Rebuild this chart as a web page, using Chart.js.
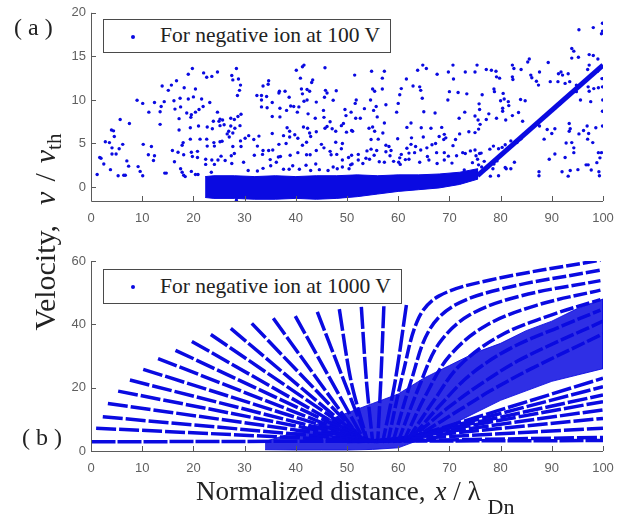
<!DOCTYPE html>
<html>
<head>
<meta charset="utf-8">
<script src="https://cdn.jsdelivr.net/npm/chart.js@4.4.1/dist/chart.umd.min.js"></script>
<style>
  html,body{margin:0;padding:0;background:#fff;}
  #wrap{position:relative;width:630px;height:526px;overflow:hidden;background:#fff;}
  canvas{position:absolute;left:0;}
  .serif{font-family:"Liberation Serif","Times New Roman",serif;color:#222;position:absolute;white-space:nowrap;}
  .legend{position:absolute;background:#fff;border:1px solid #4a4a4a;box-sizing:border-box;}
  .legend .dot{position:absolute;width:4px;height:4px;border-radius:50%;background:rgb(10,10,225);}
  .legend .txt{position:absolute;font-family:"Liberation Serif","Times New Roman",serif;font-size:21.5px;color:#222;white-space:nowrap;}
</style>
</head>
<body>
<div id="wrap">
  <canvas id="ca" width="630" height="230" style="top:0;"></canvas>
  <canvas id="cb" width="630" height="250" style="top:230px;"></canvas>

  <div class="legend" style="left:103px;top:19px;width:288px;height:34px;">
    <div class="dot" style="left:27px;top:15px;"></div>
    <div class="txt" style="left:56px;top:3px;">For negative ion at 100 V</div>
  </div>
  <div class="legend" style="left:103px;top:269px;width:299px;height:35px;">
    <div class="dot" style="left:27px;top:15px;"></div>
    <div class="txt" style="left:56px;top:4px;">For negative ion at 1000 V</div>
  </div>

  <div class="serif" style="left:14px;top:14px;font-size:24px;">( a )</div>
  <div class="serif" style="left:22px;top:424px;font-size:24px;">( b )</div>

  <div class="serif" id="ytitle" style="left:45px;top:232px;font-size:30px;transform:translate(-50%,-50%) rotate(-90deg);">Velocity,<span style="display:inline-block;width:20px"></span><i>v</i><span style="display:inline-block;width:10px"></span>/<span style="display:inline-block;width:10px"></span><i>v</i><sub style="font-size:21px;position:relative;top:6px;vertical-align:baseline;">th</sub></div>

  <div class="serif" style="left:196px;top:476px;font-size:27px;">Normalized distance,<span style="display:inline-block;width:9px"></span><i>x</i> / λ<sub style="font-size:22px;position:relative;top:14px;vertical-align:baseline;margin-left:7px;">Dn</sub></div>
</div>

<script>
// ---------------- DATA ----------------
const xTicks = [0,10,20,30,40,50,60,70,80,90,100];
const yTicksA = [0,5,10,15,20];
const yTicksB = [0,20,40,60];

// Panel (a): scattered ions (x / lambda_Dn, v / v_th)
const aX = [19.8,19.0,22.0,22.6,23.6,24.7,16.7,15.7,13.9,18.2,15.1,20.4,9.0,10.1,12.4,14.3,16.2,17.4,19.0,20.0,21.6,23.2,13.7,13.5,11.3,16.4,17.5,18.7,19.6,20.4,21.1,21.9,24.7,5.7,7.5,13.5,17.2,19.5,23.9,25.2,4.0,4.4,17.2,19.4,21.0,22.7,23.7,4.55,2.8,3.6,6.2,10.2,11.8,18.0,19.4,21.3,22.6,22.7,24.0,25.2,4.1,5.5,17.8,15.9,17.0,18.1,19.6,20.8,24.1,1.7,1.95,4.1,4.9,11.2,12.4,12.2,7.0,2.5,7.35,16.3,19.8,20.8,22.4,23.6,24.8,22.4,24.1,3.8,9.2,9.6,10.1,14.4,14.7,17.5,17.8,18.1,18.4,19.6,20.4,20.9,5.3,6.4,6.7,1.2,23.5,
 28.4,27.5,27.7,28.8,29.2,29.0,28.6,41.6,41.3,40.1,45.7,40.9,43.3,43.1,34.7,34.6,33.6,36.8,36.7,37.9,32.4,33.3,33.3,34.3,35.4,38.7,41.1,42.2,42.7,41.3,42.2,41.6,45.8,46.1,45.6,47.9,47.3,44.0,39.6,40.6,39.0,33.3,34.4,36.9,38.2,40.3,42.4,45.4,49.6,49.8,50.8,29.3,28.7,27.3,28.0,25.7,25.0,35.4,36.9,43.8,45.5,46.7,46.1,49.3,48.9,25.2,26.0,27.3,28.1,29.1,26.9,26.6,27.0,27.7,30.1,30.8,32.8,35.4,38.3,38.8,38.8,37.6,39.8,40.4,41.5,42.3,42.7,42.9,44.0,45.7,47.1,47.8,49.9,50.9,25.6,29.2,29.3,27.7,28.0,26.2,25.4,27.4,31.8,32.5,31.9,33.5,33.6,34.7,35.5,36.7,38.1,37.0,36.6,35.0,41.3,42.1,42.1,42.8,40.4,38.9,45.0,45.5,46.7,47.8,49.1,48.9,46.9,48.0,50.9,50.3,44.0,43.9,42.0,39.4,35.1,36.2,29.8,27.5,30.7,32.5,33.6,37.6,38.7,40.7,42.9,44.6,46.3,48.1,47.3,49.1,49.1,50.7,28.4,
 54.8,57.3,51.5,56.9,63.8,64.8,65.5,67.6,69.8,70.7,70.8,73.1,75.0,75.4,61.6,62.9,64.2,64.4,64.7,60.6,60.3,60.0,55.0,55.4,56.9,51.8,51.6,53.4,54.6,55.2,55.7,55.9,57.6,59.7,57.3,62.5,65.0,67.2,69.7,70.0,71.7,73.4,71.9,73.0,75.0,75.9,52.6,51.7,51.1,54.3,55.0,55.4,56.1,57.0,59.9,61.7,62.6,64.5,64.9,66.4,68.0,68.5,69.0,66.6,67.3,68.9,69.3,71.2,72.0,73.8,75.0,76.0,75.7,54.7,54.7,55.3,53.9,55.8,57.6,58.2,57.6,58.4,58.6,59.1,60.1,60.3,60.6,61.7,62.5,62.1,63.4,63.2,64.4,65.6,65.7,67.5,69.0,70.7,71.4,72.6,73.1,74.1,75.0,75.2,76.2,52.2,52.2,53.1,53.7,54.4,56.3,57.3,60.4,61.4,62.1,64.2,66.0,67.6,69.0,69.8,70.5,72.9,74.5,75.7,76.3,51.0,50.4,
 95.3,98.1,99.9,99.9,99.7,93.9,94.3,93.9,95.2,97.3,98.1,99.0,97.3,97.0,98.95,99.8,99.9,99.95,99.9,99.9,85.6,85.3,89.3,82.3,82.6,77.2,78.2,79.1,79.2,79.8,82.3,82.4,84.0,85.9,86.1,87.6,91.3,91.8,92.1,93.2,87.0,87.4,89.7,91.2,92.6,93.5,94.8,94.8,97.1,97.3,98.2,99.1,97.6,95.6,91.6,90.6,80.5,80.7,78.8,78.7,76.4,75.8,81.6,80.0,81.5,80.4,80.4,83.9,84.8,83.5,82.3,77.7,77.2,75.6,79.2,81.0,84.3,87.2,87.6,90.6,93.4,93.6,95.3,93.4,96.2,96.9,97.2,98.6,97.0,98.0,92.8,93.9,89.1,90.0,88.5,84.0,83.2,82.0,80.9,80.3,79.6,78.6,77.9,75.9,75.5,76.8,77.5,77.2,78.5,79.3,78.7,81.1,82.0,87.5,87.5,89.5,90.6,92.6,94.3,94.3,99.1,99.7,99.4,93.6,92.0,99.2,99.3,97.1,96.7,97.7,98.8,95.1,93.2,82.7,79.6,78.0,80.9];
const aY = [13.6,12.95,13.1,12.6,12.7,13.2,12.2,11.7,11.6,11.4,11.1,11.25,9.97,9.6,9.7,9.8,9.9,10.2,10.1,10.35,10.1,9.7,9.25,8.65,8.6,8.95,9.2,8.5,8.3,8.6,8.9,9.25,8.6,7.75,7.3,7.2,7.85,8.0,7.55,7.8,6.55,6.45,6.55,6.8,7.0,6.9,6.7,5.8,5.2,5.1,4.9,4.9,4.65,5.1,5.5,5.5,5.5,4.7,5.1,5.2,4.5,4.4,4.8,4.2,4.0,3.7,4.0,4.1,4.7,3.4,3.3,3.8,3.8,3.7,3.6,3.05,3.0,2.65,2.4,2.9,3.5,3.4,3.2,3.1,3.1,2.6,2.6,2.0,2.35,1.8,1.3,1.6,1.6,2.1,1.7,1.35,1.2,1.8,1.45,1.45,1.3,1.35,1.35,1.45,1.7,
 13.6,12.8,12.3,12.4,11.7,11.1,10.5,14.0,13.8,13.4,13.7,12.5,12.3,12.0,12.2,11.8,11.6,11.0,10.8,11.0,10.5,10.5,10.0,10.4,9.7,10.3,11.25,11.2,11.0,10.7,10.0,9.85,11.1,10.8,10.3,11.05,9.97,9.75,9.25,9.2,9.3,9.2,9.1,9.05,8.8,8.6,8.4,8.8,8.9,8.2,8.6,8.35,8.1,7.9,7.75,7.7,7.55,8.1,8.05,7.9,8.0,7.5,6.95,7.3,7.05,7.05,7.15,7.0,6.75,7.05,6.4,6.1,5.75,6.2,5.6,5.9,5.85,6.15,6.8,6.4,5.75,5.9,6.0,5.6,6.9,6.75,6.2,5.8,6.35,6.75,6.7,6.4,6.3,6.5,5.25,5.3,4.65,4.65,3.85,3.05,3.55,3.6,5.45,4.7,3.65,3.75,4.2,4.2,4.25,4.9,5.0,3.5,3.45,3.15,4.8,5.15,3.7,3.7,3.95,3.65,4.9,4.5,4.1,5.15,5.0,4.4,3.7,3.75,3.65,3.4,4.2,2.65,2.5,2.45,2.45,2.85,2.85,2.7,1.9,1.85,2.15,2.05,2.05,2.05,1.9,2.0,1.9,2.1,2.3,3.1,2.3,2.55,-1.5,
 13.3,13.3,12.85,12.5,13.4,14.0,13.6,12.95,13.2,14.0,12.4,13.2,13.2,14.0,12.4,11.6,11.5,11.1,10.2,11.3,10.6,9.6,11.25,11.0,11.25,10.0,9.6,9.0,10.0,8.8,9.25,8.05,9.45,8.6,7.35,7.35,8.65,8.5,10.0,10.95,10.85,10.7,7.9,8.6,8.15,8.9,7.9,7.9,6.4,6.75,6.9,6.4,5.5,6.2,5.55,6.85,5.65,6.8,5.75,6.75,5.8,6.85,6.05,4.85,5.0,5.45,5.65,5.45,6.1,6.35,6.25,7.2,6.65,5.45,4.35,3.65,4.15,4.2,4.8,4.65,4.05,3.6,4.2,2.95,2.85,3.35,3.75,4.45,4.9,3.9,4.65,3.95,4.25,4.5,3.5,3.95,3.95,4.75,3.6,3.95,3.85,4.15,4.25,3.6,3.9,3.75,3.1,2.7,3.3,3.2,2.9,2.85,2.6,3.15,3.2,2.85,3.1,2.7,3.1,3.55,2.75,1.95,2.8,2.55,2.3,2.65,2.1,
 18.05,18.3,18.8,17.9,17.6,15.9,15.6,14.8,14.9,15.2,15.1,14.7,14.0,13.5,13.3,12.45,11.5,10.0,8.7,7.0,14.7,14.35,14.3,14.0,13.6,13.5,13.4,13.3,12.65,12.5,12.65,12.35,13.5,12.85,12.55,13.2,13.0,13.2,12.85,13.0,12.15,11.7,12.1,12.1,11.9,12.1,11.7,10.95,11.5,11.0,11.3,11.4,9.8,10.0,9.55,9.05,10.75,10.1,10.95,11.25,10.6,9.55,9.35,9.9,9.8,9.05,8.7,10.05,9.9,8.55,8.2,8.4,7.75,7.7,7.9,7.7,7.55,7.2,7.0,6.7,7.3,6.7,6.1,6.4,6.5,7.0,6.15,6.8,5.5,5.1,5.05,5.1,6.6,6.15,5.5,5.55,5.1,5.3,4.85,4.55,4.4,4.7,4.35,3.85,3.2,2.95,2.25,2.1,2.1,3.0,2.65,2.1,2.1,1.75,1.3,3.2,3.8,3.4,4.5,3.95,3.95,3.95,3.35,1.9,1.75,1.75,1.3,2.55,2.55,1.95,2.8,2.0,1.25,2.85,1.3,1.25,2.25];

// Panel (a): dense low-velocity band (outline) and accelerated branch
const bandX   = [22.3, 24, 28, 32, 36, 40, 44, 48, 52, 56, 60, 64, 68, 72, 75.5];
const bandTop = [1.2, 1.3, 1.3, 1.2, 1.3, 1.2, 1.3, 1.3, 1.4, 1.3, 1.4, 1.4, 1.5, 1.7, 2.1];
const bandBot = [-1.2, -1.3, -1.3, -1.4, -1.4, -1.3, -1.4, -1.3, -1.1, -0.8, -0.5, -0.3, -0.1, 0.3, 0.9];
const branchX = [75.5, 100];
const branchY = [1.3, 14.0];

// Panel (b): streaks converging on the low-velocity focus
const leftStartX = [0.1, 1.0, 2.3, 3.3, 5.3, 7.6, 10.2, 13.1, 16.5, 19.7, 23.4, 27.3, 31.4, 35.6, 39.9, 44.2];
const leftStartY = [2.9, 7.2, 10.8, 15.0, 18.9, 22.4, 25.8, 29.2, 31.8, 34.6, 36.8, 38.7, 40.3, 41.9, 42.6, 43.9];
const leftEndX   = [100, 56, 56, 56, 55.5, 55, 55, 54.5, 54.5, 54, 54, 53.5, 53.5, 53, 53.5, 54];
const leftEndY   = [3.3, 3, 3, 3, 3, 3, 3, 3, 3, 3, 3, 3, 3, 3, 3, 3];
const steepTopX = [48.5, 52.8, 57.2, 61.6];
const steepTopY = [44.8, 45.5, 45.7, 46.1];
const steepMidX = [50.8, 53.8, 56.6, 59.4];
const steepMidY = [22, 22, 22, 22];
const steepEndX = [54, 55, 56, 57];
const steepEndY = [3, 3, 3, 3];
const upper1 = [[58,3],[61,25],[64,42],[68,49],[78,54],[99.5,60.3]];
const upper2 = [[59,3],[62.5,22],[66,38],[71,46],[81,51.5],[99.5,57.1]];
const upper3 = [[60,3],[64,20],[68,34],[74,43],[84,49],[99.5,53.8]];
const upper4 = [[61,3],[65.5,18],[70,30],[77,39.5],[87,46],[99.5,50.8]];
const upper5 = [[62,4],[67,16],[72,27],[80,36.5],[90,43],[99.5,47.8]];
const upper6 = [[63,5],[68.5,15],[74,24],[82,32.5],[92,39.5],[99.5,44.5]];
const upper7 = [[64,6],[70,14],[76,21],[84,29],[100,41]];
const upper8 = [[65,6],[72,13],[78,19],[86,26],[100,37]];
const lowerEndY = [4.3, 7.2, 10.3, 13.0, 15.6, 17.7, 20.3, 23.0];
const lowerStartX = [50, 52, 54, 56, 57, 58, 59, 60];
// dense cloud region
const cloudX   = [34, 40, 45, 50, 55, 60, 65, 70, 75, 80, 85, 90, 95, 100];
const cloudTop = [3, 6, 9, 12, 15, 18, 23, 27, 31, 34, 38, 41, 45, 48];
const cloudBot = [0.4, 0.3, 0.3, 0.3, 0.5, 1, 4, 8, 12, 16, 19, 22, 24, 26];

// ---------------- STYLE / HELPERS ----------------
const BLUE = 'rgb(10,10,225)';
const AXIS = '#5a5a5a';
const TICKC = '#5f5f5f';
const tickFont = {family:'"Liberation Sans", Arial, sans-serif', size:13};

const matlabAxes = {
  id:'matlabAxes',
  afterDraw(chart){
    const {ctx, chartArea:a, scales} = chart;
    ctx.save();
    ctx.strokeStyle = AXIS; ctx.lineWidth = 1;
    ctx.beginPath();
    ctx.moveTo(a.left+0.5, a.top); ctx.lineTo(a.left+0.5, a.bottom+0.5); ctx.lineTo(a.right, a.bottom+0.5);
    scales.x.ticks.forEach(t=>{ const p=Math.round(scales.x.getPixelForValue(t.value))+0.5; ctx.moveTo(p,a.bottom); ctx.lineTo(p,a.bottom-5); });
    scales.y.ticks.forEach(t=>{ const p=Math.round(scales.y.getPixelForValue(t.value))+0.5; ctx.moveTo(a.left,p); ctx.lineTo(a.left+5,p); });
    ctx.stroke();
    ctx.restore();
  }
};

function xScale(){
  return {type:'linear', min:0, max:100,
    afterBuildTicks:s=>{s.ticks = xTicks.map(v=>({value:v}));},
    afterFit:s=>{s.height = 29;},
    grid:{display:false, drawTicks:false}, border:{display:false},
    ticks:{color:TICKC, font:tickFont, padding:10, maxRotation:0, autoSkip:false}};
}
function yScale(min,max,ticks){
  return {type:'linear', min, max,
    afterBuildTicks:s=>{s.ticks = ticks.map(v=>({value:v}));},
    afterFit:s=>{s.width = 91;},
    grid:{display:false, drawTicks:false}, border:{display:false},
    ticks:{color:TICKC, font:tickFont, padding:5, autoSkip:false}};
}
const baseOpts = (pad, ymin, ymax, yt) => ({
  responsive:false, animation:false, events:[],
  layout:{padding:pad},
  plugins:{legend:{display:false}, tooltip:{enabled:false}},
  scales:{x:xScale(), y:yScale(ymin,ymax,yt)}
});
const pts = (xs,ys)=>xs.map((x,i)=>({x, y:ys[i]}));
const line = (data, w, dash, extra) => Object.assign({data, showLine:true, pointRadius:0, borderColor:BLUE,
  backgroundColor:BLUE, borderWidth:w, borderDash:dash||[], tension:0, fill:false}, extra||{});

// ---------------- PANEL (a) ----------------
const bandPoly = pts(bandX, bandTop).concat(pts(bandX, bandBot).reverse());
new Chart(document.getElementById('ca'), {
  type:'scatter',
  data:{datasets:[
    {data:pts(aX,aY), pointRadius:1.7, pointBorderWidth:0, backgroundColor:BLUE, borderColor:BLUE},
    line(pts(branchX,branchY), 5),
    line(bandPoly, 1, [], {fill:'shape', borderColor:BLUE})
  ]},
  options:baseOpts({left:0, right:27, top:10, bottom:0}, -1.6, 20, yTicksA),
  plugins:[matlabAxes]
});

// ---------------- PANEL (b) ----------------
const dsB = [];
leftStartX.forEach((x,i)=>{
  dsB.push(line([{x, y:leftStartY[i]}, {x:leftEndX[i], y:leftEndY[i]}], 3.5, i===0?[24,2]:[20,3]));
});
steepTopX.forEach((x,i)=>{
  dsB.push(line([{x, y:steepTopY[i]}, {x:steepMidX[i], y:steepMidY[i]}, {x:steepEndX[i], y:steepEndY[i]}], 3.5, [22,3], {tension:0.3}));
});
[upper1, upper2, upper3, upper4, upper5, upper6, upper7, upper8].forEach(c=>{
  dsB.push(line(c.map(p=>({x:p[0], y:p[1]})), 3.5, [14,3], {tension:0.35}));
});
lowerEndY.forEach((y,i)=>{
  dsB.push(line([{x:lowerStartX[i], y:3}, {x:100, y}], 3.5, [20,3]));
});
const cloudPoly = pts(cloudX, cloudTop).concat(pts(cloudX, cloudBot).reverse());
dsB.push(line(cloudPoly, 1, [], {fill:'shape', backgroundColor:'rgba(10,10,225,0.85)', borderColor:'rgba(10,10,225,0.85)'}));

new Chart(document.getElementById('cb'), {
  type:'scatter',
  data:{datasets:dsB},
  options:baseOpts({left:0, right:27, top:31, bottom:0}, 0, 60, yTicksB),
  plugins:[matlabAxes]
});
</script>
</body>
</html>
